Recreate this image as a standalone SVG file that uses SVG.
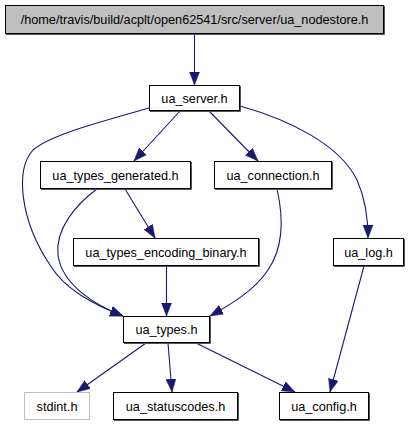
<svg xmlns="http://www.w3.org/2000/svg" width="409" height="427" viewBox="0 0 409 427">
<style>
.box{fill:#ffffff;stroke:#000000;stroke-width:1}
.root{fill:#bfbfbf;stroke:#000000;stroke-width:1}
.ext{fill:#ffffff;stroke:#bfbfbf;stroke-width:1}
.shadow{fill:none;stroke:#555555;stroke-width:1}
text{font-family:"Liberation Sans",Arial,sans-serif;font-size:12.7px;fill:#000000;text-anchor:middle}
.edge{fill:none;stroke:#191970;stroke-width:1.1;marker-end:url(#arr)}
</style>
<defs>
<marker id="arr" markerUnits="userSpaceOnUse" markerWidth="14" markerHeight="12" viewBox="0 0 14 11" refX="13" refY="5.5" orient="auto">
<path d="M0,0.5 L13,5.5 L0,10.5 Z" fill="#191970" stroke="#191970" stroke-width="0.5"/>
</marker>
</defs>
<rect width="409" height="427" fill="#ffffff"/>
<g id="connectors">
<path class="edge" d="M194.5,34 L194.5,85"/>
<path class="edge" d="M180,111 L134,161"/>
<path class="edge" d="M209,111 L258,161"/>
<path class="edge" d="M240,106 C290,120 340,145 357,180 C366,200 368,220 368,238"/>
<path class="edge" d="M149,108 C100,122 50,135 33,150 C15,170 20,220 50,265 C65,290 95,305 123,316"/>
<path class="edge" d="M97,189 C75,205 55,230 58,255 C62,285 95,305 123,316"/>
<path class="edge" d="M125,189 L155,238"/>
<path class="edge" d="M166.5,266 L166.5,316"/>
<path class="edge" d="M277,189 C283,215 285,245 268,270 C255,290 230,305 210,316"/>
<path class="edge" d="M146,343 L77,392"/>
<path class="edge" d="M168,343 L172,392"/>
<path class="edge" d="M196,343 L295,392"/>
<path class="edge" d="M364,266 L330,392"/>
</g>
<g id="node_root">
<rect class="root" x="5.5" y="5.5" width="378" height="28"/>
<path class="shadow" d="M384.5,6 V34.5 H6"/>
<text x="194.5" y="24">/home/travis/build/acplt/open62541/src/server/ua_nodestore.h</text>
</g>
<g id="node_ua_server">
<rect class="box" x="149.5" y="85.5" width="90" height="25"/>
<path class="shadow" d="M240.5,86 V111.5 H150"/>
<text x="194.5" y="102.5">ua_server.h</text>
</g>
<g id="node_ua_types_generated">
<rect class="box" x="40.5" y="161.5" width="150" height="27"/>
<path class="shadow" d="M191.5,162 V189.5 H41"/>
<text x="115.5" y="179.5">ua_types_generated.h</text>
</g>
<g id="node_ua_connection">
<rect class="box" x="214.5" y="161.5" width="117" height="27"/>
<path class="shadow" d="M332.5,162 V189.5 H215"/>
<text x="273" y="179.5">ua_connection.h</text>
</g>
<g id="node_ua_types_encoding_binary">
<rect class="box" x="73.5" y="238.5" width="185" height="27"/>
<path class="shadow" d="M259.5,239 V266.5 H74"/>
<text x="166" y="256.5">ua_types_encoding_binary.h</text>
</g>
<g id="node_ua_log">
<rect class="box" x="333.5" y="238.5" width="70" height="27"/>
<path class="shadow" d="M404.5,239 V266.5 H334"/>
<text x="368.5" y="256.5">ua_log.h</text>
</g>
<g id="node_ua_types">
<rect class="box" x="123.5" y="316.5" width="86" height="26"/>
<path class="shadow" d="M210.5,317 V343.5 H124"/>
<text x="166.5" y="334">ua_types.h</text>
</g>
<g id="node_stdint">
<rect class="ext" x="24.5" y="392.5" width="65" height="27"/>
<text x="57" y="410.5">stdint.h</text>
</g>
<g id="node_ua_statuscodes">
<rect class="box" x="113.5" y="392.5" width="124" height="27"/>
<path class="shadow" d="M238.5,393 V420.5 H114"/>
<text x="175.5" y="410.5">ua_statuscodes.h</text>
</g>
<g id="node_ua_config">
<rect class="box" x="279.5" y="392.5" width="89" height="27"/>
<path class="shadow" d="M369.5,393 V420.5 H280"/>
<text x="324" y="410.5">ua_config.h</text>
</g>
</svg>
